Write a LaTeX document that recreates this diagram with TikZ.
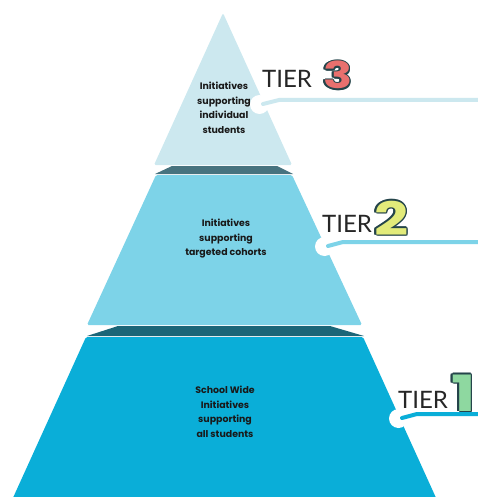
\documentclass[tikz,border=0pt]{standalone}
\usepackage{fontspec}
\usepackage{graphicx}
\newfontfamily\poppins{Poppins}
\newfontfamily\lato{Lato}
\definecolor{tierthree}{HTML}{CCE8EF}
\definecolor{tiertwo}{HTML}{7DD3E8}
\definecolor{tierone}{HTML}{0AAED8}
\definecolor{bandthree}{HTML}{47737F}
\definecolor{bandtwo}{HTML}{1B6678}
\definecolor{numline}{HTML}{24444A}
\definecolor{numthree}{HTML}{E8706E}
\definecolor{numtwo}{HTML}{E2EB7A}
\definecolor{numone}{HTML}{8ED8A0}
\newcommand{\outlineddigit}[2]{\scalebox{1.3}[1]{{\color{numline}%
	\foreach \a in {0,30,...,330}{\makebox[0pt][l]{\hspace*{\fpeval{1.1*cosd(\a)}pt}\raisebox{\fpeval{1.1*sind(\a)}pt}{#2}}}%
	\makebox[0pt][l]{\hspace*{1.3pt}\raisebox{-1.4pt}{#2}}}\textcolor{#1}{#2}}}
\tikzset{
	tiertext/.style = {align = center, inner sep = 0, text = black!90, font = \poppins\bfseries\fontsize{9.4}{14.5}\selectfont},
	tierword/.style = {anchor = base west, inner sep = 0, text = black!85, font = \lato\fontsize{24}{24}\selectfont},
	tiernum/.style = {anchor = base west, inner sep = 0, font = \poppins\bfseries\fontsize{#1}{#1}\selectfont},
	leader/.style = {line width = 4pt, line cap = round, line join = round},
	halo/.style = {white, line width = 9pt, line cap = round, line join = round}
}

\begin{document}
\begin{tikzpicture}[x = 1pt, y = -1pt]
		\useasboundingbox (0,0) rectangle (477,497);
		\fill [bandtwo] (118,326) -- (330,326) -- (364,336) -- (87,336) -- cycle;
		\fill [tierone, rounded corners = 1.5pt] (86,337) -- (363,337) -- (437,500) -- (12,500) -- cycle;
		\fill [bandthree] (172,166) -- (277,166) -- (293,174) -- (155,174) -- cycle;
		\fill [tiertwo, rounded corners = 1.5pt] (156,175) -- (292,175) -- (362,325) -- (87,325) -- cycle;
		\fill [tierthree, rounded corners = 1.5pt] (223,13) -- (292,165) -- (154,165) -- cycle;
		\node [tiertext] (t3) at (224,108) {Initiatives\\supporting\\individual\\students};
		\node [tiertext] (t2) at (226,239) {Initiatives\\supporting\\targeted cohorts};
		\node [tiertext] (t1) at (225,412) {School Wide\\Initiatives\\supporting\\all students};
		\coordinate (s3) at (263,104);
		\coordinate (b3) at (279,100);
		\coordinate (e3) at (480,100);
		\coordinate (s2) at (328,246);
		\coordinate (b2) at (343,242);
		\coordinate (e2) at (480,242);
		\coordinate (s1) at (402,418);
		\coordinate (b1) at (417,414);
		\coordinate (e1) at (480,414);
		\foreach \t/\col in {3/tierthree, 2/tiertwo, 1/tierone}{
			\fill [white] ([shift = {(-3.5,0.5)}] s\t) circle [radius = 9.5];
			\draw [halo] (s\t) -- (b\t) -- (e\t);
			\draw [leader, \col] (s\t) -- (b\t) -- (e\t);
		}
		\node [tierword] (w3) at (262,88) {TIER};
		\node [tierword] (w2) at (322,232) {TIER};
		\node [tierword] (w1) at (398,408) {TIER};
		\node [tiernum = 37] (n3) at (323,89) {\outlineddigit{numthree}{3}};
		\node [tiernum = 46] (n2) at (374,235) {\outlineddigit{numtwo}{2}};
		\node [tiernum = 50] (n1) at (451,411) {\outlineddigit{numone}{1}};
\end{tikzpicture}
\end{document}
